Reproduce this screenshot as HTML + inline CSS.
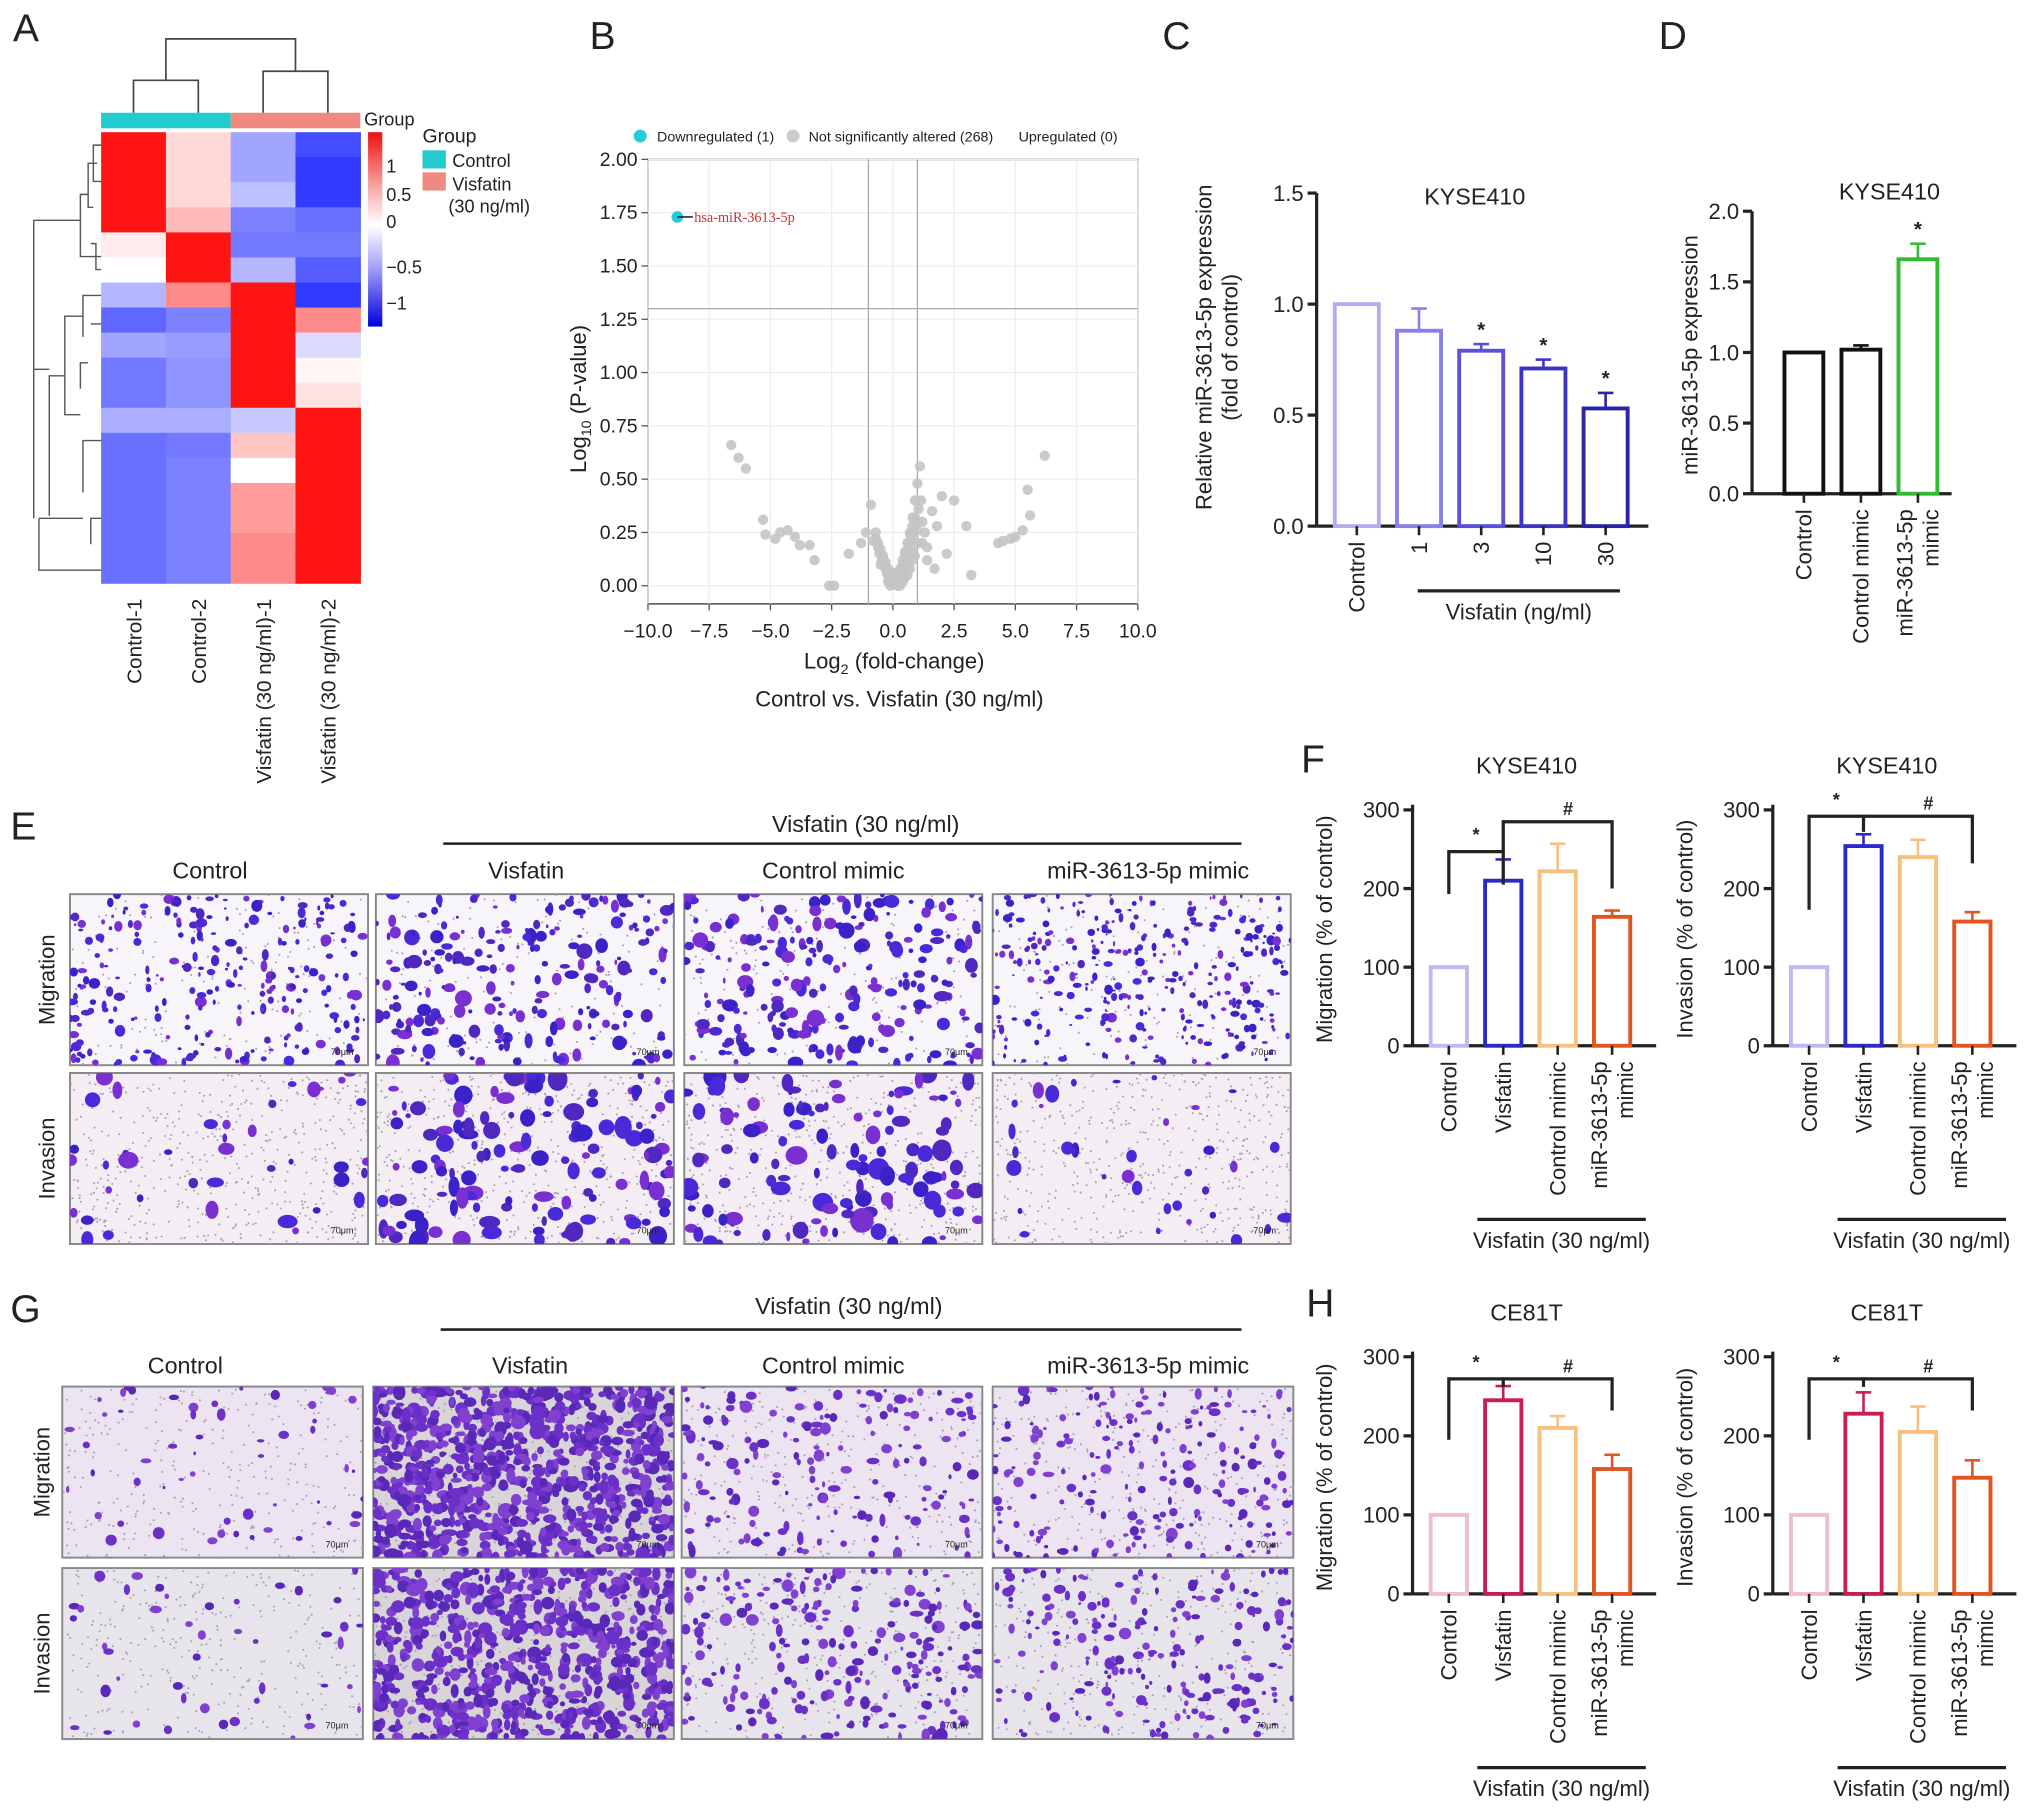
<!DOCTYPE html>
<html><head><meta charset="utf-8"><style>
html,body{margin:0;padding:0;background:#fff}
svg{display:block;font-family:"Liberation Sans",Arial,sans-serif}
</style></head><body>
<svg id="fig" width="2032" height="1815" viewBox="0 0 1568 1400.6" xmlns="http://www.w3.org/2000/svg"></svg>
<script>
// ---------- DATA ----------
const heatCols = ['Control-1','Control-2','Visfatin (30 ng/ml)-1','Visfatin (30 ng/ml)-2'];
const heatC1 = [1.5,1.5,1.5,1.5,0.1,0,-0.4,-0.85,-0.5,-0.75,-0.75,-0.45,-0.8,-0.8,-0.8,-0.8,-0.8,-0.8];
const heatC2 = [0.2,0.2,0.2,0.35,1.5,1.5,0.6,-0.7,-0.55,-0.6,-0.6,-0.45,-0.75,-0.7,-0.7,-0.7,-0.7,-0.7];
const heatC3 = [-0.5,-0.5,-0.35,-0.7,-0.75,-0.4,1.2,1.2,1.5,1.5,1.5,-0.3,0.3,0,0.5,0.5,0.6,0.6];
const heatC4 = [-1,-1.1,-1.1,-0.8,-0.75,-0.9,-1.1,0.6,-0.2,0.05,0.15,1.5,1.4,1.5,1.3,1.2,1.2,1.2];
const volX = [-6.6,-6.3,-6,-5.3,-5.2,-4.8,-4.6,-4.3,-4,-3.8,-3.4,-3.2,-2.6,-2.4,-1.8,-1.3,-1.1,-0.8,-0.6,-0.4,-0.3,-0.2,-0.1,0,0.1,0.2,0.3,0.4,0.5,0.6,0.7,0.8,0.9,1,1.1,1.2,1.3,1.4,1.6,1.8,2,2.5,3,3.2,-0.5,-0.2,0.2,0.5,0.8,1,4.3,4.5,4.8,5,5.3,5.5,5.6,6.2,-0.9,-0.7,0.3,0.6,
 -0.6,-0.5,-0.4,-0.3,-0.2,-0.1,0,0.1,0.2,0.3,0.4,0.5,0.6,0.7,0.8,0.9,-0.45,-0.35,-0.25,-0.15,0.05,0.15,0.25,0.35,0.45,0.55,0.65,0.75,0.85,0.95,1.05,1.15,-0.7,-0.55,0.0,0.2,0.4,0.6,0.8,1.0,-0.1,0.1,0.3,0.5,0.7,0.9,1.2,1.4,1.7,2.2];
const volY = [0.66,0.6,0.55,0.31,0.24,0.22,0.25,0.26,0.23,0.19,0.19,0.12,0,0,0.15,0.2,0.25,0.21,0.18,0.12,0.08,0.05,0.03,0.01,0.02,0.04,0.06,0.1,0.15,0.2,0.25,0.32,0.4,0.48,0.56,0.3,0.25,0.18,0.35,0.28,0.42,0.4,0.28,0.05,0.1,0.02,0,0.08,0.12,0.2,0.2,0.21,0.22,0.23,0.26,0.45,0.33,0.61,0.38,0.25,0.01,0.05,
 0.2,0.17,0.14,0.11,0.08,0.05,0.03,0.03,0.05,0.08,0.12,0.16,0.2,0.24,0.28,0.32,0.12,0.09,0.06,0.03,0.01,0.02,0.04,0.07,0.1,0.13,0.17,0.21,0.25,0.3,0.36,0.4,0.22,0.15,0.06,0.0,0.02,0.1,0.16,0.26,0.0,0.01,0.0,0.04,0.08,0.14,0.2,0.12,0.08,0.15];
const volTicksX = [-10,-7.5,-5,-2.5,0,2.5,5,7.5,10];
const volTicksY = [0,0.25,0.5,0.75,1,1.25,1.5,1.75,2];
const cCats = ['Control','1','3','10','30'];
const cVals = [1.0,0.88,0.79,0.71,0.53];
const cErr  = [0,0.1,0.03,0.04,0.07];
const cTicks = [0,0.5,1.0,1.5];
const dCats = ['Control','Control mimic','miR-3613-5p|mimic'];
const dVals = [1.0,1.02,1.66];
const dErr  = [0,0.03,0.11];
const dTicks = [0,0.5,1.0,1.5,2.0];
const fgCats = ['Control','Visfatin','Control mimic','miR-3613-5p|mimic'];
const fMig = [100,210,222,164], fMigErr = [0,27,35,8];
const fInv = [100,254,240,158], fInvErr = [0,15,22,12];
const hMig = [100,245,210,158], hMigErr = [0,18,15,18];
const hInv = [100,228,205,147], hInvErr = [0,27,32,22];
const pctTicks = [0,100,200,300];

// ---------- helpers ----------
const NS='http://www.w3.org/2000/svg';
const svg=document.getElementById('fig');
function el(tag,attrs,parent,text){const e=document.createElementNS(NS,tag);for(const k in attrs)e.setAttribute(k,attrs[k]);if(text!==undefined)e.textContent=text;(parent||svg).appendChild(e);return e;}
function grp(name,parent){const g=el('g',{},parent);


return g;}
function txt(parent,x,y,s,size,opts){opts=opts||{};const t=el('text',{x:x,y:y,'font-size':size,'text-anchor':opts.anchor||'start',fill:opts.fill||'#222'},parent,s);if(opts.rot!==undefined)t.setAttribute('transform','rotate('+opts.rot+' '+x+' '+y+')');if(opts.family)t.setAttribute('font-family',opts.family);if(opts.weight)t.setAttribute('font-weight',opts.weight);


return t;}
function line(p,x1,y1,x2,y2,c,w){return el('line',{x1:x1,y1:y1,x2:x2,y2:y2,stroke:c||'#222','stroke-width':w||1.5},p);}

// panel letters
[['A',10,32],['B',455,38],['C',897,38],['D',1280,38],['E',8,648],['F',1004,596],['G',8,1020],['H',1008,1016]].forEach(([l,x,y])=>txt(svg,x,y,l,30,{name:'panel-letter-'+l.toLowerCase()}));

// ---------- Heatmap A ----------
(function(){
const g=grp('heatmap-panel-a');
const x0=78,y0=102,cw=50,rh=348/18;
function col(v){v=Math.max(-1.2,Math.min(1.5,v));
 if(v>=0){const t=Math.min(1,v/1.2);return 'rgb(255,'+Math.round(255-t*235)+','+Math.round(255-t*235)+')';}
 const t=Math.min(1,-v/1.2);return 'rgb('+Math.round(255-t*225)+','+Math.round(255-t*215)+',255)';}
[heatC1,heatC2,heatC3,heatC4].forEach((arr,ci)=>{arr.forEach((v,ri)=>{
 const r=el('rect',{x:x0+ci*cw,y:y0+ri*rh,width:cw+0.5,height:rh+0.5,fill:col(v)},g);
 
 });});
el('rect',{x:x0,y:87,width:100,height:12,fill:'#22cccc'},g);
el('rect',{x:x0+100,y:87,width:100,height:12,fill:'#f08a80'},g);
txt(g,281,97,'Group',14);
const d='M103 87V62H153V87 M203 87V55H253V87 M128 62V30H228V55';
el('path',{d:d,fill:'none',stroke:'#444','stroke-width':1.3},g);
const ld='M78 112H72V140H78 M75 126H68V160H72 M68 150H62V198H78 M70 188H74V208H78 M26 170H62 M26 170V400 M78 228H64V260 M70 250H78 M68 280H62V300 M64 244H50V320H62 M50 290H38V398 M26 285H38 M78 340H64V380 M78 400H70V420 M30 400H64 M30 400V440H78';
el('path',{d:ld,fill:'none',stroke:'#555','stroke-width':1.1},g);
const defs=el('defs',{},g);const lg=el('linearGradient',{id:'cb',x1:0,y1:0,x2:0,y2:1},defs);
[['0','#ee1010'],['0.3','#f8b0b0'],['0.48','#ffffff'],['0.7','#a0a0f8'],['1','#0000dd']].forEach(s=>el('stop',{offset:s[0],'stop-color':s[1]},lg));
el('rect',{x:284,y:102,width:11,height:150,fill:'url(#cb)'},g);
[['1',128],['0.5',150],['0',171],['\u22120.5',206],['\u22121',234]].forEach(([s,y])=>txt(g,298,y+5,s,14));
txt(g,326,110,'Group',15);
el('rect',{x:326,y:116,width:18,height:14,fill:'#22cccc'},g);
el('rect',{x:326,y:133,width:18,height:14,fill:'#f08a80'},g);
txt(g,349,129,'Control',14);txt(g,349,147,'Visfatin',14);txt(g,346,164,'(30 ng/ml)',14);
heatCols.forEach((c,i)=>txt(g,x0+25+i*cw+6,462,c,16,{anchor:'end',rot:-90,name:'heatmap-column-label'}));
})();

// ---------- Volcano B ----------
(function(){
const g=grp('volcano-plot-b');
const L=500,R=878,T=123,B=466;
const xs=v=>L+(v+10)/20*(R-L), ys=v=>452-(v/2)*(452-123);
el('rect',{x:L,y:T,width:R-L,height:B-T,fill:'#fff',stroke:'#555','stroke-width':1.2},g);
volTicksX.forEach(v=>{line(g,xs(v),T,xs(v),B,'#eee',1);line(g,xs(v),B,xs(v),B+5,'#555',1);txt(g,xs(v),492,v.toFixed(1).replace('-','\u2212'),15,{anchor:'middle',name:'x-tick-label'});});
volTicksY.forEach(v=>{line(g,L,ys(v),R,ys(v),'#eee',1);line(g,L-5,ys(v),L,ys(v),'#555',1);txt(g,L-8,ys(v)+5,v.toFixed(2),15,{anchor:'end',name:'y-tick-label'});});
line(g,xs(-1),T,xs(-1),B,'#aaa',1);line(g,xs(1),T,xs(1),B,'#aaa',1);line(g,L,ys(1.3),R,ys(1.3),'#aaa',1);
volX.forEach((v,i)=>{const c=el('circle',{cx:xs(v),cy:ys(volY[i]),r:4,fill:'#c4c4c4',opacity:0.9},g);
 
 });
const p=el('circle',{cx:xs(-8.8),cy:ys(1.73),r:4.5,fill:'#22ccdd'},g);


line(g,xs(-8.8),ys(1.73),xs(-8.8)+12,ys(1.73),'#222',1.2);
txt(g,xs(-8.8)+13,ys(1.73)+4,'hsa-miR-3613-5p',11,{fill:'#d03030',family:'"Liberation Serif",serif'});
el('circle',{cx:494,cy:105,r:5,fill:'#22ccdd'},g);txt(g,507,109,'Downregulated (1)',11);
el('circle',{cx:612,cy:105,r:5,fill:'#ccc'},g);txt(g,624,109,'Not significantly altered (268)',11);
txt(g,786,109,'Upregulated (0)',11);
const yl=txt(g,452,365,'',17,{rot:-90,name:'y-axis-title'});yl.innerHTML='Log<tspan font-size="11" dy="4">10</tspan><tspan dy="-4"> (P-value)</tspan>';
const xl=txt(g,690,516,'',17,{anchor:'middle',name:'x-axis-title'});xl.innerHTML='Log<tspan font-size="11" dy="4">2</tspan><tspan dy="-4"> (fold-change)</tspan>';
txt(g,694,545,'Control vs. Visfatin (30 ng/ml)',17,{anchor:'middle'});
})();

// ---------- Bar chart helper ----------
function barChart(o){
 const g=grp(o.name);
 const ys=v=>o.y0-(v/o.max)*(o.y0-o.yTop);
 line(g,o.ax,o.y0,o.ax,o.axTop,'#222',2.5);
 line(g,o.ax,o.y0,o.axEnd,o.y0,'#222',2.5);
 o.ticks.forEach(t=>{line(g,o.ax-7,ys(t),o.ax,ys(t),'#222',2.5);txt(g,o.ax-10,ys(t)+6,o.tickFmt?o.tickFmt(t):String(t),17,{anchor:'end',name:'y-tick-label'});});
 o.vals.forEach((v,i)=>{
  const cx=o.x0+i*o.step, w=o.bw;
  if(o.err[i]>0){line(g,cx,ys(v),cx,ys(v+o.err[i]),o.colors[i],2);line(g,cx-6,ys(v+o.err[i]),cx+6,ys(v+o.err[i]),o.colors[i],2);}
  const r=el('rect',{x:cx-w/2,y:ys(v),width:w,height:o.y0-ys(v),fill:'#fff',stroke:o.colors[i],'stroke-width':3},g);
  
  
  line(g,cx,o.y0,cx,o.y0+7,'#222',2);
  const parts=o.cats[i].split('|');
  parts.forEach((p,k)=>txt(g,cx+6+(k-(parts.length-1)/2)*20,o.y0+12,p,17,{anchor:'end',rot:-90,name:'x-tick-label'}));
  if(o.stars&&o.stars[i])txt(g,cx,ys(v+o.err[i])-6,o.stars[i],16,{anchor:'middle',weight:'bold'});
 });
 txt(g,o.titleX,o.titleY,o.title,18,{anchor:'middle',name:'chart-title'});
 const yl=o.ylabel.split('|');
 yl.forEach((s,k)=>txt(g,o.ylx+k*20,o.yly,s,17,{anchor:'middle',rot:-90,name:'y-axis-title'}));
 if(o.underline){line(g,o.underline[0],o.underline[2],o.underline[1],o.underline[2],'#222',2.5);txt(g,(o.underline[0]+o.underline[1])/2+o.ulx,o.underline[2]+22,o.ultext,17,{anchor:'middle'});}
 if(o.brackets){const v1=o.x0,v2=o.x0+o.step,v4=o.x0+3*o.step;const b=o.brackets;
  el('path',{d:`M${v1} ${ys(b[0])}V${ys(b[1])}H${v2}V${ys(b[2])}`,fill:'none',stroke:'#222','stroke-width':2.5},g);
  el('path',{d:`M${v2} ${ys(b[1])}V${ys(b[3])}H${v4}V${ys(b[4])}`,fill:'none',stroke:'#222','stroke-width':2.5},g);
  txt(g,(v1+v2)/2,ys(b[1])-8,'*',14,{anchor:'middle',weight:'bold'});txt(g,(v2+v4)/2+8,ys(b[3])-5,'#',14,{anchor:'middle',weight:'bold'});}
 return g;
}
barChart({name:'bar-chart-c',ax:1016,axTop:149,axEnd:1272,y0:406,yTop:149,max:1.5,ticks:cTicks,tickFmt:t=>t.toFixed(1),vals:cVals,err:cErr,cats:cCats,x0:1047,step:48,bw:34,
 colors:['#b4acf0','#8880ec','#5a50dc','#3c34c8','#2a24a8'],stars:['','','*','*','*'],title:'KYSE410',titleX:1138,titleY:158,ylabel:'Relative miR-3613-5p expression|(fold of control)',ylx:935,yly:268,underline:[1094,1250,456],ulx:0,ultext:'Visfatin (ng/ml)'});
barChart({name:'bar-chart-d',ax:1352,axTop:163,axEnd:1506,y0:381,yTop:163,max:2.0,ticks:dTicks,tickFmt:t=>t.toFixed(1),vals:dVals,err:dErr,cats:dCats,x0:1392,step:44,bw:30,
 colors:['#111','#111','#33bb33'],stars:['','','*'],title:'KYSE410',titleX:1458,titleY:154,ylabel:'miR-3613-5p expression',ylx:1310,yly:274});
const orangeSet=['#c0b8f0','#2a2ac8','#f5c080','#e05520'];
const crimsonSet=['#f0bcd0','#c81e50','#f5c080','#e05520'];
const fgOpt=(name,ax,y0,yTop,vals,err,colors,title,ylabel,br)=>({name:name,ax:ax,axTop:yTop-4,axEnd:ax+188,y0:y0,yTop:yTop,max:300,ticks:pctTicks,vals:vals,err:err,cats:fgCats,x0:ax+28,step:42,bw:28,colors:colors,
 title:title,titleX:ax+88,titleY:yTop-28,ylabel:ylabel,ylx:ax-62,yly:y0-90,underline:[ax+50,ax+180,y0+134],ulx:0,ultext:'Visfatin (30 ng/ml)',brackets:br});
barChart(fgOpt('bar-chart-f-migration',1090,807,625,fMig,fMigErr,orangeSet,'KYSE410','Migration (% of control)',[193,247,205,285,200]));
barChart(fgOpt('bar-chart-f-invasion',1368,807,625,fInv,fInvErr,orangeSet,'KYSE410','Invasion (% of control)',[173,292,272,292,232]));
barChart(fgOpt('bar-chart-h-migration',1090,1230,1047,hMig,hMigErr,crimsonSet,'CE81T','Migration (% of control)',[195,272,262,272,232]));
barChart(fgOpt('bar-chart-h-invasion',1368,1230,1047,hInv,hInvErr,crimsonSet,'CE81T','Invasion (% of control)',[195,272,262,272,232]));

// ---------- Micrographs ----------
let seed=12345;function rnd(){seed=(seed*1103515245+12345)%2147483648;return seed/2147483648;}
function micro(name,x,y,w,h,bg,n,smin,smax,cols,speck){
 const g=grp(name);
 const cid='clip'+Math.round(x)+'_'+Math.round(y);
 const cp=el('clipPath',{id:cid},g);el('rect',{x:x,y:y,width:w,height:h},cp);
 el('rect',{x:x,y:y,width:w,height:h,fill:bg,stroke:'#888','stroke-width':1.5},g);
 const inner=el('g',{'clip-path':'url(#'+cid+')'},g);
 for(let i=0;i<speck;i++){el('circle',{cx:x+rnd()*w,cy:y+rnd()*h,r:0.8,fill:'#a8a0b8'},inner);}
 for(let i=0;i<n;i++){const s=smin+rnd()*(smax-smin);el('ellipse',{cx:x+rnd()*w,cy:y+rnd()*h,rx:s*(0.6+rnd()*0.8),ry:s*(0.6+rnd()*0.8),fill:cols[Math.floor(rnd()*cols.length)]},inner);}
 txt(g,x+w-20,y+h-8,'70\u03bcm',7,{anchor:'middle'});
 return g;
}
const pc=['#3a22c8','#4a2ad8','#5028c0','#7a30d0'];
const ECols=[54,290,528,766], GCols=[48,288,526,766];
const eMig=[[260,1.2,3.5],[220,1.5,5],[220,1.5,5],[320,1,3]], eInv=[[40,2.5,6],[130,2.5,7],[120,2.5,7],[35,2,5]];
const gMig=[[55,1.5,3.5],[900,2.5,4.5],[170,1.5,4],[220,1.5,3.5]], gInv=[[45,2,4],[700,2.5,4.5],[230,1.8,4],[220,1.5,3.5]];
const names=['control','visfatin','control-mimic','mir-3613-5p-mimic'];
ECols.forEach((x,i)=>{micro('micrograph-e-migration-'+names[i],x,690,230,132,'#f8f5fa',eMig[i][0],eMig[i][1],eMig[i][2],pc,150);
 micro('micrograph-e-invasion-'+names[i],x,828,230,132,'#f4eef4',eInv[i][0],eInv[i][1],eInv[i][2],pc,500);});
GCols.forEach((x,i)=>{micro('micrograph-g-migration-'+names[i],x,1070,232,132,i==1?'#d8d4d8':'#ece4f0',gMig[i][0],gMig[i][1],gMig[i][2],['#6a30c8','#5a28b8','#8040d0'],300);
 micro('micrograph-g-invasion-'+names[i],x,1210,232,132,i==1?'#d8d4d8':'#e8e4ec',gInv[i][0],gInv[i][1],gInv[i][2],['#6a30c8','#5a28b8','#8040d0'],300);});
(function(){const g=grp('micrograph-labels');
 [['Control',162,678],['Visfatin',406,678],['Control mimic',643,678],['miR-3613-5p mimic',886,678]].forEach(a=>txt(g,a[1],a[2],a[0],18,{anchor:'middle'}));
 [['Control',143,1060],['Visfatin',409,1060],['Control mimic',643,1060],['miR-3613-5p mimic',886,1060]].forEach(a=>txt(g,a[1],a[2],a[0],18,{anchor:'middle'}));
 txt(g,668,642,'Visfatin (30 ng/ml)',18,{anchor:'middle'});line(g,342,651,958,651,'#222',2);
 txt(g,655,1014,'Visfatin (30 ng/ml)',18,{anchor:'middle'});line(g,340,1026,958,1026,'#222',2);
 txt(g,42,756,'Migration',17,{anchor:'middle',rot:-90});txt(g,42,894,'Invasion',17,{anchor:'middle',rot:-90});
 txt(g,38,1136,'Migration',17,{anchor:'middle',rot:-90});txt(g,38,1276,'Invasion',17,{anchor:'middle',rot:-90});
})();
</script>
</body></html>
